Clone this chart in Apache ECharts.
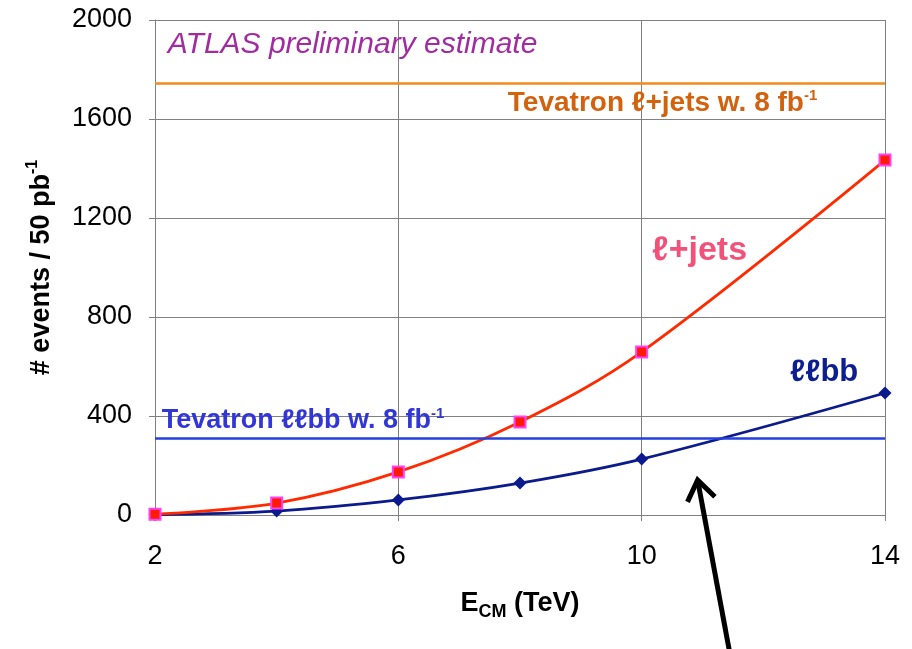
<!DOCTYPE html>
<html>
<head>
<meta charset="utf-8">
<title>Top pair events per 50 pb-1 vs centre-of-mass energy</title>
<script src="https://cdn.jsdelivr.net/npm/echarts@6/dist/echarts.min.js"></script>
<style>
  html, body { margin: 0; padding: 0; background: #ffffff; }
  #chart { width: 912px; height: 649px; }
</style>
</head>
<body>
<div id="chart"></div>
<script>
// Centre-of-mass energies (TeV) and expected events per 50 pb^-1
const energies = [2, 4, 6, 8, 10, 14];
const leptonJets = [3, 48, 174, 376, 659, 1434];
const dileptonBB = [2, 16, 61, 129, 226, 493];

// Tevatron reference yields with 8 fb^-1
const tevatronLeptonJets = 1744;
const tevatronDileptonBB = 312;

// Axis ticks
const xTicks = [2, 6, 10, 14];
const yTicks = [0, 400, 800, 1200, 1600, 2000];

const FONT = '"Liberation Sans", Arial, Helvetica, sans-serif';

const chart = echarts.init(document.getElementById('chart'));

function pairs(xs, ys) {
  return xs.map((x, i) => [x, ys[i]]);
}

const option = {
  backgroundColor: '#ffffff',
  animation: false,
  grid: { left: 155, right: 27, top: 20, bottom: 134 },
  xAxis: {
    type: 'value',
    min: xTicks[0],
    max: xTicks[xTicks.length - 1],
    interval: xTicks[1] - xTicks[0],
    name: '{e|E}{sub|CM}{e| (TeV)}',
    nameLocation: 'middle',
    nameGap: 72,
    nameTextStyle: {
      fontFamily: FONT,
      rich: {
        e: { fontSize: 27, fontWeight: 'bold', color: '#000', fontFamily: FONT, lineHeight: 34 },
        sub: { fontSize: 18, fontWeight: 'bold', color: '#000', fontFamily: FONT, verticalAlign: 'bottom', lineHeight: 34 }
      }
    },
    axisLine: { show: true, onZero: false, lineStyle: { color: '#808080', width: 1 } },
    axisTick: { show: true, inside: false, length: 6, lineStyle: { color: '#808080' } },
    axisLabel: { fontFamily: FONT, fontSize: 27, color: '#000', margin: 28, formatter: v => String(v) },
    splitLine: { show: true, lineStyle: { color: '#808080', width: 1 } }
  },
  yAxis: {
    type: 'value',
    min: yTicks[0],
    max: yTicks[yTicks.length - 1],
    interval: yTicks[1] - yTicks[0],
    name: '{t|# events / 50 pb}{sup|-1}',
    nameLocation: 'middle',
    nameGap: 96,
    nameRotate: 90,
    nameTextStyle: {
      fontFamily: FONT,
      rich: {
        t: { fontSize: 27, fontWeight: 'bold', color: '#000', fontFamily: FONT, lineHeight: 34 },
        sup: { fontSize: 16, fontWeight: 'bold', color: '#000', fontFamily: FONT, verticalAlign: 'top', lineHeight: 34 }
      }
    },
    axisLine: { show: true, lineStyle: { color: '#808080', width: 1 } },
    axisTick: { show: true, inside: false, length: 6, lineStyle: { color: '#808080' } },
    axisLabel: { fontFamily: FONT, fontSize: 27, color: '#000', margin: 23, formatter: v => String(v) },
    splitLine: { show: true, lineStyle: { color: '#808080', width: 1 } }
  },
  series: [
    {
      name: 'Tevatron',
      type: 'line',
      data: [],
      silent: true,
      markLine: {
        silent: true,
        symbol: 'none',
        label: { show: false },
        data: [
          { yAxis: tevatronLeptonJets, lineStyle: { color: '#f28a1e', width: 2.5, type: 'solid' } },
          { yAxis: tevatronDileptonBB, lineStyle: { color: '#2540e0', width: 2.5, type: 'solid' } }
        ]
      }
    },
    {
      name: 'ℓℓbb',
      type: 'line',
      data: pairs(energies, dileptonBB),
      smooth: 0.35,
      symbol: 'diamond',
      symbolSize: 13,
      lineStyle: { color: '#0b1a8c', width: 2.8 },
      itemStyle: { color: '#0b1a8c', borderWidth: 0 },
      z: 3
    },
    {
      name: 'ℓ+jets',
      type: 'line',
      data: pairs(energies, leptonJets),
      smooth: 0.35,
      symbol: 'rect',
      symbolSize: 11,
      lineStyle: { color: '#ff2a00', width: 2.8 },
      itemStyle: { color: '#ff1a00', borderColor: '#ff40ff', borderWidth: 2 },
      z: 4
    }
  ]
};

chart.setOption(option);

// Annotations anchored to data coordinates
function px(x, y) {
  return chart.convertToPixel({ gridIndex: 0 }, [x, y]);
}

function textAt(x, y, text, style) {
  const p = px(x, y);
  return {
    type: 'text',
    x: p[0],
    y: p[1],
    z: 10,
    style: Object.assign({ text: text, textAlign: 'left', textVerticalAlign: 'middle', fontFamily: FONT }, style)
  };
}

const tip = px(10.92, 141);
const tail = px(11.45, -560);
const dx = tip[0] - tail[0];
const dy = tip[1] - tail[1];
const len = Math.sqrt(dx * dx + dy * dy);
const ux = dx / len, uy = dy / len;
const head = 24, spread = 0.62;
function wing(sign) {
  const c = Math.cos(sign * spread), s = Math.sin(sign * spread);
  const bx = -ux, by = -uy;
  return [tip[0] + head * (bx * c - by * s), tip[1] + head * (bx * s + by * c)];
}

chart.setOption({
  graphic: [
    textAt(2.21, 1899, 'ATLAS preliminary estimate', {
      fontSize: 30, fontStyle: 'italic', fill: '#a02ca0'
    }),
    textAt(7.80, 1662, '{m|Tevatron ℓ+jets w. 8 fb}{s|-1}', {
      rich: {
        m: { fontSize: 28, fontWeight: 'bold', fill: '#d2620e', fontFamily: FONT, lineHeight: 30 },
        s: { fontSize: 15, fontWeight: 'bold', fill: '#d2620e', fontFamily: FONT, verticalAlign: 'top', lineHeight: 30 }
      }
    }),
    textAt(2.11, 380, '{m|Tevatron ℓℓbb w. 8 fb}{s|-1}', {
      rich: {
        m: { fontSize: 27, fontWeight: 'bold', fill: '#3336d6', fontFamily: FONT, lineHeight: 30 },
        s: { fontSize: 15, fontWeight: 'bold', fill: '#3336d6', fontFamily: FONT, verticalAlign: 'top', lineHeight: 30 }
      }
    }),
    textAt(10.17, 1067, 'ℓ+jets', {
      fontSize: 34, fontWeight: 'bold', fill: '#f2527a'
    }),
    textAt(12.44, 576, 'ℓℓbb', {
      fontSize: 31, fontWeight: 'bold', fill: '#0d1e8e'
    }),
    {
      type: 'line',
      z: 10,
      shape: { x1: tail[0], y1: tail[1], x2: tip[0] - ux * 3, y2: tip[1] - uy * 3 },
      style: { stroke: '#000', lineWidth: 5 }
    },
    {
      type: 'polyline',
      z: 10,
      shape: { points: [wing(1), tip, wing(-1)] },
      style: { stroke: '#000', lineWidth: 5, fill: null, lineJoin: 'miter' }
    }
  ]
});
</script>
</body>
</html>
